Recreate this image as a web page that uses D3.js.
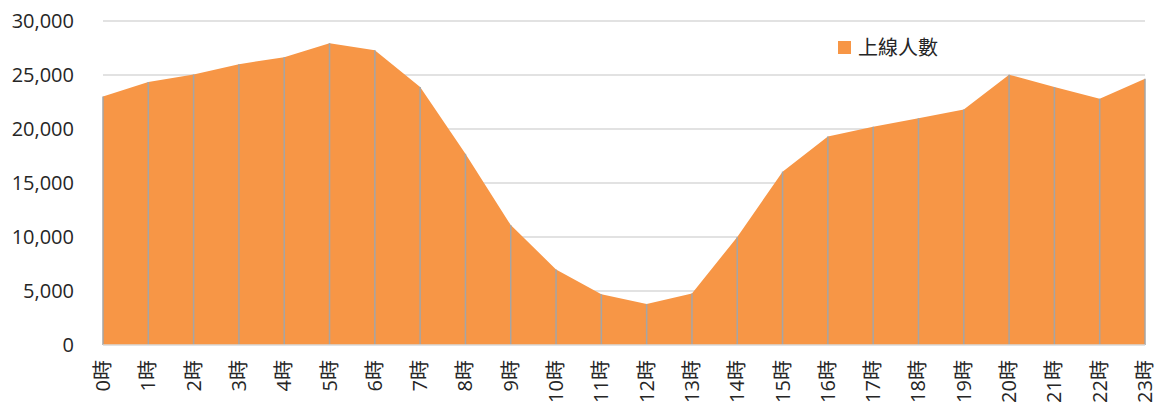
<!DOCTYPE html>
<html>
<head>
<meta charset="utf-8">
<script src="https://cdn.jsdelivr.net/npm/d3@7"></script>
<style>
  body { margin: 0; background: #fff; }
  #chart text { font-family: "Open Sans", "Noto Sans CJK TC", sans-serif; fill: #262626; }
</style>
</head>
<body>
<div id="chart"></div>
<script>
// Hourly online users
const hours = ['0時','1時','2時','3時','4時','5時','6時','7時','8時','9時','10時','11時',
  '12時','13時','14時','15時','16時','17時','18時','19時','20時','21時','22時','23時'];
const onlineUsers = [23000, 24350, 25050, 26000, 26650, 27950, 27300, 23900, 17700, 11100, 7000, 4700,
  3800, 4780, 10000, 16050, 19300, 20200, 21000, 21800, 25030, 23900, 22800, 24650];
const yTicks = [0, 5000, 10000, 15000, 20000, 25000, 30000];
const seriesName = '上線人數';

const width = 1158;
const height = 406;
const margin = { top: 21, right: 13, bottom: 61, left: 103 };
const innerWidth = width - margin.left - margin.right;
const innerHeight = height - margin.top - margin.bottom;

const svg = d3.select('#chart')
  .append('svg')
  .attr('width', width)
  .attr('height', height);

const g = svg.append('g')
  .attr('transform', `translate(${margin.left},${margin.top})`);

const x = d3.scalePoint()
  .domain(hours)
  .range([0, innerWidth]);

const y = d3.scaleLinear()
  .domain([0, 30000])
  .range([innerHeight, 0]);

// Gridlines
g.append('g')
  .selectAll('line')
  .data(yTicks.filter(d => d > 0))
  .join('line')
  .attr('x1', 0)
  .attr('x2', innerWidth)
  .attr('y1', d => y(d))
  .attr('y2', d => y(d))
  .attr('stroke', '#d9d9d9')
  .attr('stroke-width', 1.5);

// Area
const area = d3.area()
  .x((d, i) => x(hours[i]))
  .y0(y(0))
  .y1(d => y(d));

g.append('path')
  .datum(onlineUsers)
  .attr('d', area)
  .attr('fill', '#F79646');

// Drop lines
g.append('g')
  .selectAll('line')
  .data(onlineUsers)
  .join('line')
  .attr('x1', (d, i) => x(hours[i]))
  .attr('x2', (d, i) => x(hours[i]))
  .attr('y1', d => y(d))
  .attr('y2', y(0))
  .attr('stroke', '#a5a5a5')
  .attr('stroke-width', 1.5);

// Baseline
g.append('line')
  .attr('x1', 0)
  .attr('x2', innerWidth)
  .attr('y1', y(0))
  .attr('y2', y(0))
  .attr('stroke', '#d9d9d9')
  .attr('stroke-width', 1.5);

// Y axis labels
const fmt = d3.format(',');
g.append('g')
  .selectAll('text')
  .data(yTicks)
  .join('text')
  .attr('x', -29)
  .attr('y', d => y(d))
  .attr('dy', '0.35em')
  .attr('text-anchor', 'end')
  .attr('font-size', '20px')
  .text(d => fmt(d));

// X axis labels (rotated)
g.append('g')
  .selectAll('text')
  .data(hours)
  .join('text')
  .attr('transform', d => `translate(${x(d)},${innerHeight + 15}) rotate(-90)`)
  .attr('dy', '0.35em')
  .attr('text-anchor', 'end')
  .attr('font-size', '20px')
  .text(d => d);

// Legend
const legend = svg.append('g')
  .attr('transform', 'translate(838,41)');

legend.append('rect')
  .attr('width', 13)
  .attr('height', 13)
  .attr('fill', '#F79646');

legend.append('text')
  .attr('x', 20)
  .attr('y', 6.5)
  .attr('dy', '0.35em')
  .attr('font-size', '20px')
  .text(seriesName);
</script>
</body>
</html>
